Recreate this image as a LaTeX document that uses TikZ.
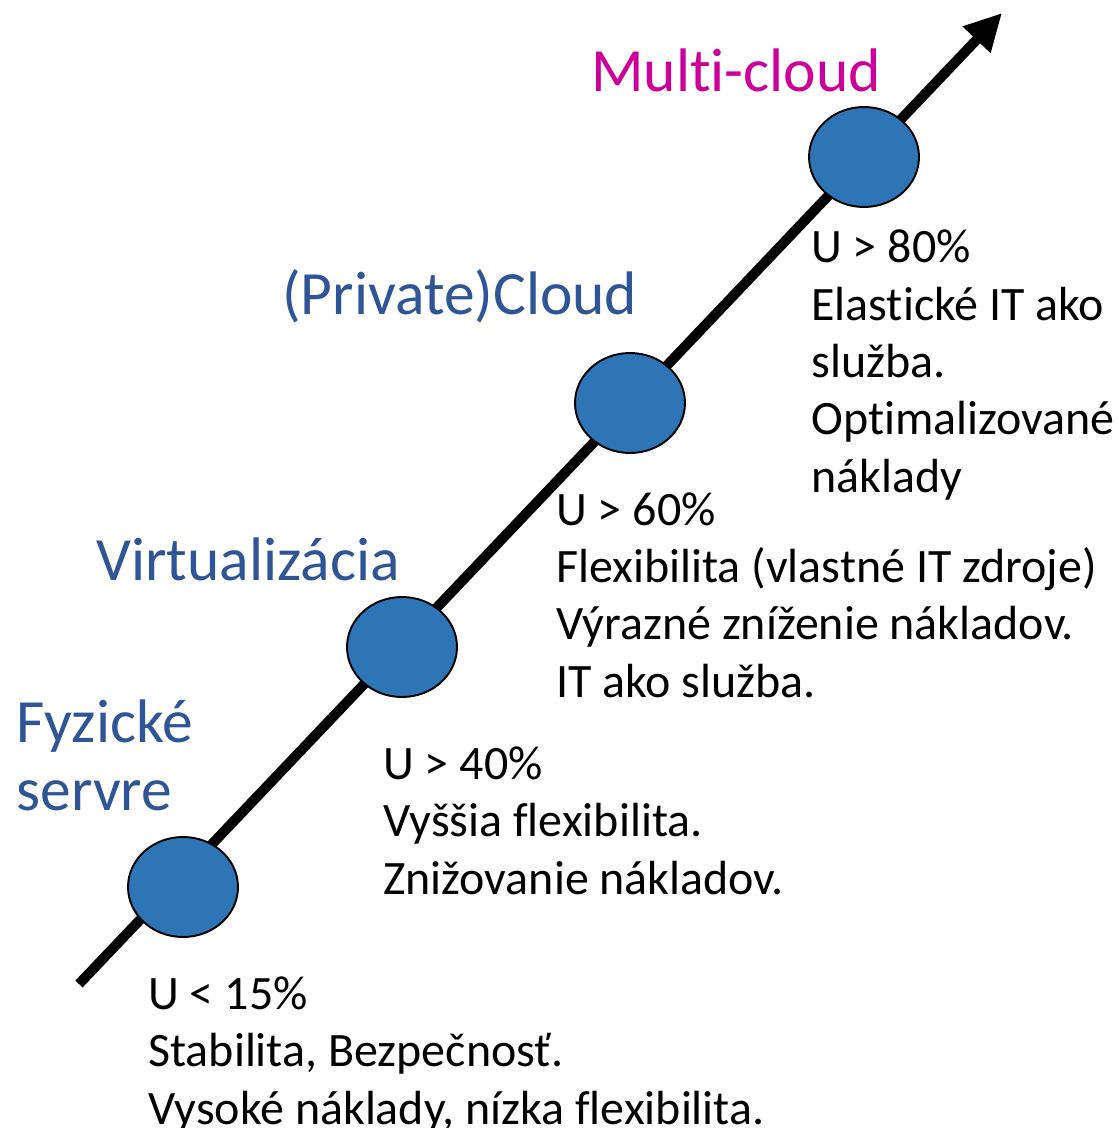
\documentclass[tikz,border=0pt]{standalone}
\usepackage{fontspec}
\setmainfont{Carlito}[Ligatures=NoCommon]
\usetikzlibrary{arrows.meta,shapes.geometric}
\definecolor{stageblue}{HTML}{2E75B6}
\definecolor{titleblue}{HTML}{2F5597}
\definecolor{cloudmagenta}{HTML}{CC0099}
\begin{document}
\begin{tikzpicture}[
            x=0.02cm, y=-0.02cm,
            stage/.style={ellipse, draw, line width=1.1pt, fill=stageblue, minimum width=2.2cm, minimum height=2cm, inner sep=0pt},
            title/.style={anchor=base west, inner sep=0pt, text=titleblue, align=left, font=\fontsize{35}{38.5}\selectfont},
            info/.style={anchor=base west, inner sep=0pt, align=left, font=\fontsize{27.3}{32.6}\selectfont},
            axis/.style={line width=5.7pt, -{Triangle[length=0.74cm, width=0.72cm]}}
            ]
            \useasboundingbox (0,0) rectangle (1117,1128);
            \coordinate (start) at (79,984);
            \coordinate (tip) at (1002,13);
            \draw[axis] (start) -- (tip);
            \node[stage] (fyz) at (183,887) {};
            \node[stage] (virt) at (402,647) {};
            \node[stage] (priv) at (630,403) {};
            \node[stage] (multi) at (864,157) {};
            % nazvy etap
            \node[title] (tfyz) at (16,810) {Fyzické\\servre};
            \node[title] (tvirt) at (96,580) {Virtualizácia};
            \node[title] (tpriv) at (282,315) {(Private)Cloud};
            \node[title, text=cloudmagenta] (tmulti) at (591,92) {Multi-cloud};
            % popisy
            \node[info] (ifyz) at (148,1124) {U < 15\%\\Stabilita, Bezpečnosť.\\Vysoké náklady, nízka flexibilita.};
            \node[info] (ivirt) at (383,894) {U > 40\%\\Vyššia flexibilita.\\Znižovanie nákladov.};
            \node[info] (ipriv) at (556,697) {U > 60\%\\Flexibilita (vlastné IT zdroje)\\Výrazné zníženie nákladov.\\IT ako služba.};
            \node[info] (imulti) at (811,492) {U > 80\%\\Elastické IT ako\\služba.\\Optimalizované\\náklady};
        \end{tikzpicture}
\end{document}
